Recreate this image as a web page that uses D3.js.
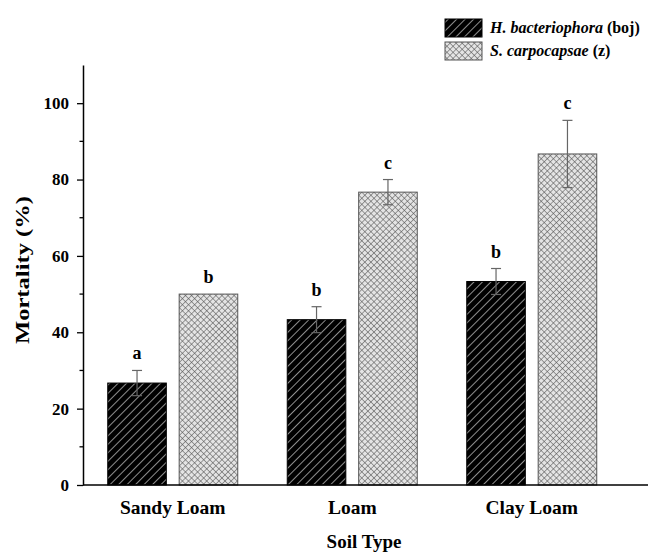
<!DOCTYPE html>
<html>
<head>
<meta charset="utf-8">
<script src="https://cdn.jsdelivr.net/npm/d3@7"></script>
<style>
  body { margin: 0; background: #fff; }
  svg { display: block; }
  text { font-family: "Liberation Serif", "Times New Roman", serif; font-weight: bold; }
</style>
</head>
<body>
<svg id="chart" width="661" height="555"></svg>
<script>
// Soil types and mortality (%) for the two nematode species
const soilTypes = ["Sandy Loam", "Loam", "Clay Loam"];
const seriesNames = ["H. bacteriophora", "S. carpocapsae"];
const seriesSuffix = [" (boj)", " (z)"];
const hbMean = [26.7, 43.3, 53.3];
const hbErr = [3.3, 3.4, 3.4];
const scMean = [50.0, 76.7, 86.7];
const scErr = [0, 3.3, 8.8];
const hbLetters = ["a", "b", "b"];
const scLetters = ["b", "c", "c"];
const yTicks = [0, 20, 40, 60, 80, 100];

const svg = d3.select("#chart");
const plotLeft = 83, plotBottom = 485, plotTop = 65, xEnd = 648;

const x = d3.scaleBand().domain(soilTypes).range([plotLeft, plotLeft + 3 * 179.5]).paddingInner(0).paddingOuter(0);
const xs = d3.scaleBand().domain([0, 1]).range([0, 130]).paddingInner(0.18).paddingOuter(0);
const y = d3.scaleLinear().domain([0, 110]).range([plotBottom, plotTop]);

// Fill patterns
const defs = svg.append("defs");
const hs = 6;
const hatch = defs.append("pattern").attr("id", "hatch").attr("patternUnits", "userSpaceOnUse")
  .attr("width", hs).attr("height", hs).attr("patternTransform", "rotate(45)");
hatch.append("rect").attr("width", hs).attr("height", hs).attr("fill", "#000");
hatch.append("line").attr("x1", 0).attr("y1", 0).attr("x2", 0).attr("y2", hs)
  .attr("stroke", "#dcdcdc").attr("stroke-width", 1.3);

const cs = 4.3;
const cross = defs.append("pattern").attr("id", "cross").attr("patternUnits", "userSpaceOnUse")
  .attr("width", cs).attr("height", cs).attr("patternTransform", "rotate(45)");
cross.append("rect").attr("width", cs).attr("height", cs).attr("fill", "#e4e4e4");
cross.append("line").attr("x1", 0).attr("y1", 0).attr("x2", 0).attr("y2", cs).attr("stroke", "#555").attr("stroke-width", 1.1);
cross.append("line").attr("x1", 0).attr("y1", 0).attr("x2", cs).attr("y2", 0).attr("stroke", "#555").attr("stroke-width", 1.1);

const fills = ["url(#hatch)", "url(#cross)"];
const strokes = ["#000", "#555"];

const data = [];
soilTypes.forEach((s, i) => {
  data.push({ soil: s, k: 0, v: hbMean[i], e: hbErr[i], l: hbLetters[i] });
  data.push({ soil: s, k: 1, v: scMean[i], e: scErr[i], l: scLetters[i] });
});

const bx = d => x(d.soil) + (x.bandwidth() - 130) / 2 + xs(d.k);
const bw = xs.bandwidth();

// Bars
svg.append("g").selectAll("rect").data(data).join("rect")
  .attr("x", bx).attr("y", d => y(d.v)).attr("width", bw).attr("height", d => y(0) - y(d.v))
  .attr("fill", d => fills[d.k]).attr("stroke", d => strokes[d.k]).attr("stroke-width", 1);

// Error bars
const eg = svg.append("g").attr("stroke", "#666").attr("stroke-width", 1.2);
data.filter(d => d.e > 0).forEach(d => {
  const cx = bx(d) + bw / 2;
  eg.append("line").attr("x1", cx).attr("x2", cx).attr("y1", y(d.v + d.e)).attr("y2", y(d.v - d.e));
  eg.append("line").attr("x1", cx - 5).attr("x2", cx + 5).attr("y1", y(d.v + d.e)).attr("y2", y(d.v + d.e));
  eg.append("line").attr("x1", cx - 5).attr("x2", cx + 5).attr("y1", y(d.v - d.e)).attr("y2", y(d.v - d.e));
});

// Significance letters
svg.append("g").selectAll("text").data(data).join("text")
  .attr("x", d => bx(d) + bw / 2).attr("y", d => y(d.v + d.e) - 11)
  .attr("text-anchor", "middle").attr("font-size", 18).text(d => d.l);

// Y axis
const yAxis = d3.axisLeft(y).tickValues(yTicks).tickSize(6).tickSizeOuter(0).tickPadding(8);
const yg = svg.append("g").attr("transform", `translate(${plotLeft},0)`).call(yAxis);
yg.selectAll("text").attr("font-size", 17).attr("font-family", "Liberation Serif").attr("font-weight", "bold").attr("fill", "#000");
yg.selectAll("line").attr("stroke", "#000").attr("stroke-width", 1.3);
yg.select(".domain").attr("stroke", "#000").attr("stroke-width", 1.5);
// minor ticks
svg.append("g").selectAll("line").data(d3.range(10, 110, 20)).join("line")
  .attr("x1", plotLeft - 3.5).attr("x2", plotLeft).attr("y1", d => y(d)).attr("y2", d => y(d))
  .attr("stroke", "#000").attr("stroke-width", 1.3);

// X axis
svg.append("line").attr("x1", plotLeft).attr("x2", xEnd).attr("y1", plotBottom).attr("y2", plotBottom)
  .attr("stroke", "#000").attr("stroke-width", 1.5);
svg.append("g").selectAll("text").data(soilTypes).join("text")
  .attr("x", d => x(d) + x.bandwidth() / 2).attr("y", 514)
  .attr("text-anchor", "middle").attr("font-size", 19.5).text(d => d);

// Axis titles
svg.append("text").attr("x", 364).attr("y", 548).attr("text-anchor", "middle")
  .attr("font-size", 19).text("Soil Type");
svg.append("text").attr("transform", "translate(29,270) rotate(-90)").attr("text-anchor", "middle")
  .attr("font-size", 19).attr("textLength", 148).attr("lengthAdjust", "spacingAndGlyphs")
  .text("Mortality (%)");

// Legend
const lg = svg.append("g");
seriesNames.forEach((n, i) => {
  const yy = 19 + i * 23;
  lg.append("rect").attr("x", 445).attr("y", yy).attr("width", 37).attr("height", 18)
    .attr("fill", fills[i]).attr("stroke", strokes[i]).attr("stroke-width", 1);
  const t = lg.append("text").attr("x", 490).attr("y", yy + 14).attr("font-size", 16);
  t.append("tspan").attr("font-style", "italic").text(n);
  t.append("tspan").text(seriesSuffix[i]);
});
</script>
</body>
</html>
